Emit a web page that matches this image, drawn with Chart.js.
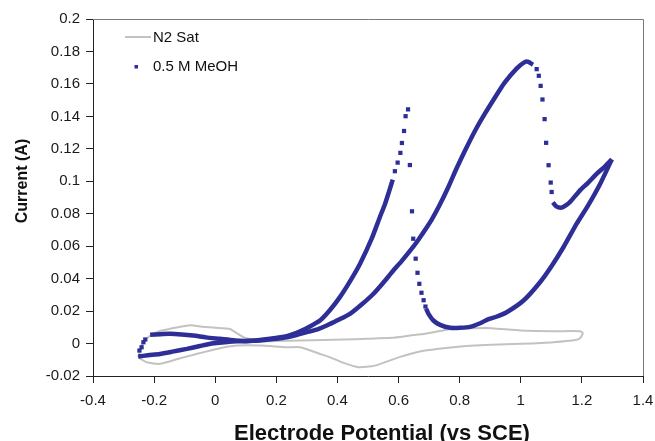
<!DOCTYPE html>
<html lang="en">
<head>
    <meta charset="UTF-8">
    <script src="https://cdn.jsdelivr.net/npm/chart.js"></script>
    <style>
        body { margin: 0; background: #fff; }
    </style>
</head>
<body>
    <canvas id="chart" width="655" height="441"></canvas>

    <script>
        // axis ticks
        const xTicks = [-0.4, -0.2, 0, 0.2, 0.4, 0.6, 0.8, 1, 1.2, 1.4];
        const xTickLabels = ['-0.4', '-0.2', '0', '0.2', '0.4', '0.6', '0.8', '1', '1.2', '1.4'];
        const yTicks = [-0.02, 0, 0.02, 0.04, 0.06, 0.08, 0.1, 0.12, 0.14, 0.16, 0.18, 0.2];
        const yTickLabels = ['-0.02', '0', '0.02', '0.04', '0.06', '0.08', '0.1', '0.12', '0.14', '0.16', '0.18', '0.2'];

        const seriesNames = ['N2 Sat', '0.5 M MeOH'];

        // N2 saturated CV loop
        const n2X = [-0.252, -0.24, -0.219, -0.185, -0.148, -0.11, -0.077, -0.05, -0.017, 0.02, 0.048, 0.07, 0.092, 0.125, 0.147, 0.2, 0.278, 0.35, 0.42, 0.496, 0.578, 0.638, 0.687, 0.714, 0.779, 0.85, 0.905, 1.0, 1.107, 1.194, 1.203, 1.195, 1.183, 1.107, 1.0, 0.905, 0.796, 0.687, 0.6, 0.523, 0.468, 0.414, 0.376, 0.343, 0.278, 0.234, 0.147, 0.07, 0.005, -0.061, -0.121, -0.181, -0.224, -0.252];
        const n2Y = [-0.0085, -0.001, 0.004, 0.0075, 0.0091, 0.0105, 0.0113, 0.0105, 0.01, 0.0095, 0.009, 0.0065, 0.0039, 0.0023, 0.0016, 0.0015, 0.0019, 0.0022, 0.0025, 0.0029, 0.0035, 0.0049, 0.006, 0.007, 0.0091, 0.0095, 0.0095, 0.008, 0.0076, 0.0076, 0.0064, 0.0035, 0.0023, 0.0008, -0.0002, -0.0008, -0.0019, -0.0043, -0.0085, -0.0136, -0.0146, -0.0115, -0.0085, -0.0064, -0.0023, -0.0023, -0.0012, -0.0012, -0.0033, -0.0064, -0.0094, -0.0125, -0.0115, -0.0085];

        // 0.5 M MeOH, forward scan up to the big peak (dense points)
        const fwdX = [-0.252, -0.22, -0.181, -0.14, -0.093, -0.05, -0.006, 0.03, 0.07, 0.11, 0.147, 0.19, 0.234, 0.27, 0.3, 0.335, 0.365, 0.4, 0.441, 0.48, 0.518, 0.55, 0.583, 0.61, 0.638, 0.665, 0.692, 0.709, 0.736, 0.763, 0.79, 0.818, 0.85, 0.883, 0.915, 0.946, 0.987, 1.014, 1.025, 1.04];
        const fwdY = [-0.008, -0.0072, -0.0064, -0.005, -0.0033, -0.0015, 0.0002, 0.0008, 0.0014, 0.0017, 0.0019, 0.0028, 0.0039, 0.0055, 0.007, 0.0088, 0.0111, 0.0143, 0.0183, 0.0242, 0.0307, 0.0375, 0.045, 0.0508, 0.0572, 0.064, 0.0715, 0.0765, 0.086, 0.0965, 0.108, 0.1191, 0.131, 0.1418, 0.1515, 0.1605, 0.1696, 0.1736, 0.1736, 0.1718];
        // fast drop after the peak (sparse points)
        const dropX = [1.052, 1.059, 1.065, 1.071, 1.078, 1.083, 1.091, 1.098, 1.101];
        const dropY = [0.1691, 0.165, 0.1588, 0.1504, 0.1383, 0.1237, 0.1099, 0.0992, 0.0934];
        // forward scan end, up to the vertex
        const fwdEndX = [1.105, 1.116, 1.134, 1.15, 1.161, 1.194, 1.22, 1.249, 1.275, 1.298];
        const fwdEndY = [0.087, 0.0845, 0.0838, 0.0855, 0.0872, 0.0944, 0.099, 0.1047, 0.109, 0.1135];
        // reverse scan down to the minimum
        const revX = [1.298, 1.26, 1.22, 1.183, 1.14, 1.1, 1.063, 1.009, 0.954, 0.92, 0.889, 0.867, 0.834, 0.801, 0.769, 0.736, 0.714, 0.698, 0.69];
        const revY = [0.1135, 0.0985, 0.085, 0.0739, 0.0595, 0.0475, 0.0378, 0.0265, 0.0193, 0.0165, 0.0146, 0.0125, 0.0103, 0.0097, 0.0097, 0.0115, 0.0142, 0.0183, 0.0215];
        // reactivation spike (sparse points)
        const spikeX = [0.688, 0.682, 0.675, 0.668, 0.662, 0.656, 0.648, 0.644, 0.637, 0.631, 0.623, 0.618, 0.611, 0.606, 0.597, 0.588];
        const spikeY = [0.0228, 0.0267, 0.0313, 0.0368, 0.0436, 0.0523, 0.0646, 0.0815, 0.11, 0.1443, 0.1401, 0.131, 0.1236, 0.1175, 0.1115, 0.1062];
        // reverse scan back to the start
        const revEndX = [0.581, 0.57, 0.556, 0.539, 0.512, 0.474, 0.44, 0.408, 0.375, 0.343, 0.31, 0.278, 0.234, 0.179, 0.103, 0.06, 0.016, -0.03, -0.072, -0.11, -0.148, -0.18, -0.213];
        const revEndY = [0.101, 0.0944, 0.0862, 0.078, 0.0646, 0.0492, 0.038, 0.0286, 0.0205, 0.0142, 0.0105, 0.0075, 0.0045, 0.0029, 0.0014, 0.002, 0.0029, 0.0038, 0.0049, 0.0056, 0.006, 0.0058, 0.0054];
        // last few sparse points at the lower vertex
        const tailX = [-0.229, -0.235, -0.241, -0.248];
        const tailY = [0.0025, 0.0008, -0.0023, -0.0043];

        const blue = '#2e2f96';
        const grey = '#c2c2c2';
        const font = 'Liberation Sans, Arial, sans-serif';

        const pts = (xs, ys) => xs.map((x, i) => ({x: x, y: ys[i]}));

        function trace(xs, ys) {
            return {
                data: pts(xs, ys),
                showLine: true,
                borderColor: blue,
                borderWidth: 4.5,
                borderJoinStyle: 'round',
                tension: 0.2,
                pointRadius: 0
            };
        }

        function dots(xs, ys) {
            return {
                data: pts(xs, ys),
                showLine: false,
                pointStyle: 'rect',
                pointRadius: 3,
                backgroundColor: blue,
                borderWidth: 0
            };
        }

        // top/right frame, legend and axis titles
        const decor = {
            id: 'decor',
            beforeDatasetsDraw(chart) {
                const {ctx, chartArea: a} = chart;
                ctx.save();
                ctx.strokeStyle = '#7a7a7a';
                ctx.lineWidth = 1;
                ctx.beginPath();
                ctx.moveTo(a.left, a.top + 0.5);
                ctx.lineTo(a.right + 0.5, a.top + 0.5);
                ctx.lineTo(a.right + 0.5, a.bottom);
                ctx.stroke();
                ctx.restore();
            },
            afterDraw(chart) {
                const ctx = chart.ctx;
                ctx.save();
                // legend
                ctx.strokeStyle = grey;
                ctx.lineWidth = 2;
                ctx.beginPath();
                ctx.moveTo(125, 37);
                ctx.lineTo(151, 37);
                ctx.stroke();
                ctx.fillStyle = blue;
                ctx.fillRect(134.5, 65, 3.5, 3.5);
                ctx.fillStyle = '#111';
                ctx.font = '15px ' + font;
                ctx.textBaseline = 'middle';
                ctx.textAlign = 'left';
                ctx.fillText(seriesNames[0], 153, 38);
                ctx.fillText(seriesNames[1], 153, 67);
                // axis titles
                ctx.font = 'bold 22px ' + font;
                ctx.textAlign = 'center';
                ctx.textBaseline = 'alphabetic';
                ctx.fillText('Electrode Potential (vs SCE)', 382, 440);
                ctx.translate(23, 181);
                ctx.rotate(-Math.PI / 2);
                ctx.font = 'bold 16px ' + font;
                ctx.textBaseline = 'middle';
                ctx.fillText('Current (A)', 0, 0);
                ctx.restore();
            }
        };

        const ctx = document.getElementById('chart').getContext('2d');
        const chart = new Chart(ctx, {
            type: 'scatter',
            data: {
                datasets: [
                    trace(fwdX, fwdY),
                    dots(dropX, dropY),
                    trace(fwdEndX, fwdEndY),
                    trace(revX, revY),
                    dots(spikeX, spikeY),
                    trace(revEndX, revEndY),
                    dots(tailX, tailY),
                    {
                        label: seriesNames[0],
                        data: pts(n2X, n2Y),
                        showLine: true,
                        borderColor: grey,
                        borderWidth: 2,
                        tension: 0.2,
                        pointRadius: 0
                    }
                ]
            },
            options: {
                responsive: false,
                animation: false,
                layout: { padding: { left: 0, top: 19, right: 12, bottom: 0 } },
                plugins: {
                    legend: { display: false },
                    tooltip: { enabled: false }
                },
                scales: {
                    x: {
                        min: -0.4,
                        max: 1.4,
                        afterBuildTicks: s => { s.ticks = xTicks.map(v => ({value: v})); },
                        afterFit: s => { s.height = 65; s.paddingLeft = 0; s.paddingRight = 0; },
                        grid: { drawOnChartArea: false, tickLength: 7, color: '#222' },
                        border: { color: '#222' },
                        ticks: {
                            autoSkip: false,
                            maxRotation: 0,
                            padding: 9,
                            color: '#1a1a1a',
                            font: { family: font, size: 15 },
                            callback: (v, i) => xTickLabels[i]
                        }
                    },
                    y: {
                        min: -0.02,
                        max: 0.2,
                        afterBuildTicks: s => { s.ticks = yTicks.map(v => ({value: v})); },
                        afterFit: s => { s.width = 93; s.paddingTop = 0; s.paddingBottom = 0; },
                        grid: { drawOnChartArea: false, tickLength: 7, color: '#222' },
                        border: { color: '#222' },
                        ticks: {
                            autoSkip: false,
                            padding: 6,
                            color: '#1a1a1a',
                            font: { family: font, size: 15 },
                            callback: (v, i) => yTickLabels[i]
                        }
                    }
                }
            },
            plugins: [decor]
        });
    </script>
</body>
</html>
